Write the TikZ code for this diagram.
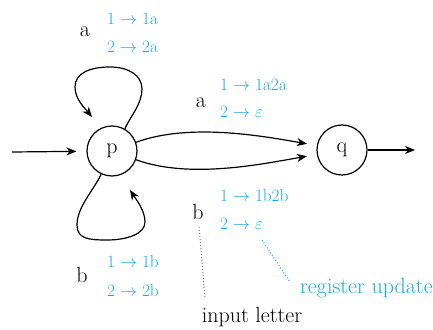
\documentclass[tikz,border=0pt]{standalone}
\usetikzlibrary{arrows.meta}
\definecolor{updblue}{RGB}{20,172,232}
\begin{document}
\begin{tikzpicture}[x=1pt,y=1pt,
  state/.style={draw,circle,line width=1.2pt,minimum size=50pt,inner sep=0pt,font=\fontsize{22}{26}\selectfont},
  edge/.style={line width=1.2pt,-{Stealth[length=10pt,width=8pt,inset=3pt]}},
  letter/.style={font=\fontsize{22}{26}\selectfont,inner sep=0pt},
  upd/.style={font=\fontsize{18}{22}\selectfont,text=updblue,anchor=west,inner sep=0pt},
  note/.style={line width=1pt,dotted}]
\useasboundingbox (0,0) rectangle (433,329);
\node[state] (p) at (112,178) {p};
\node[state] (q) at (342,179) {q};
\coordinate (init) at (12,177);
\coordinate (fin) at (415,179);
\draw[edge,shorten >=10pt] (init) -- (p);
\draw[edge] (q) -- (fin);
% top self loop
\coordinate (tr) at (142,240);
\coordinate (tt) at (110,262);
\coordinate (tl) at (75,242);
\coordinate (ttip) at (92,212);
\draw[edge] (p.60) .. controls (130.8,213.3) and (142,225) .. (tr)
  .. controls (142,254) and (128,262) .. (tt)
  .. controls (90,262) and (75,256) .. (tl)
  .. controls (75,230) and (84.4,221.3) .. (ttip);
% bottom self loop
\coordinate (bl) at (77,104);
\coordinate (bb) at (107,89);
\coordinate (br) at (145,107);
\coordinate (btip) at (130,139);
\draw[edge] (p.-115) .. controls (93.8,139) and (77,122) .. (bl)
  .. controls (77,90) and (89,89) .. (bb)
  .. controls (127,89) and (145,95) .. (br)
  .. controls (145,119) and (135.4,130.6) .. (btip);
% p to q
\draw[edge,shorten >=10pt] (p) to[out=20,in=170,looseness=0.8] (q);
\draw[edge,shorten >=10pt] (p) to[out=-20,in=-170,looseness=0.8] (q);
% labels
\node[letter] (la1) at (85,297) {a};
\node[upd] (u11) at (107,310) {$1\rightarrow\mathrm{1a}$};
\node[upd] (u12) at (107,282) {$2\rightarrow\mathrm{2a}$};
\node[letter] (la2) at (201,226) {a};
\node[upd] (u21) at (220,244) {$1\rightarrow\mathrm{1a2a}$};
\node[upd] (u22) at (220,217) {$2\rightarrow\varepsilon$};
\node[letter] (lb2) at (198,117) {b};
\node[upd] (u31) at (220,133) {$1\rightarrow\mathrm{1b2b}$};
\node[upd] (u32) at (220,105) {$2\rightarrow\varepsilon$};
\node[letter] (lb1) at (82,54) {b};
\node[upd] (u41) at (107,67) {$1\rightarrow\mathrm{1b}$};
\node[upd] (u42) at (107,39) {$2\rightarrow\mathrm{2b}$};
\node[upd,font=\fontsize{22}{26}\selectfont] (reg) at (300,41) {register update};
\node[letter] (inp) at (252,12) {input letter};
\coordinate (g1) at (199,102);
\coordinate (g2) at (205,31);
\coordinate (b1) at (262,89);
\coordinate (b2) at (290,47);
\draw[note,gray] (g1) -- (g2);
\draw[note,updblue] (b1) -- (b2);
\end{tikzpicture}
\end{document}
